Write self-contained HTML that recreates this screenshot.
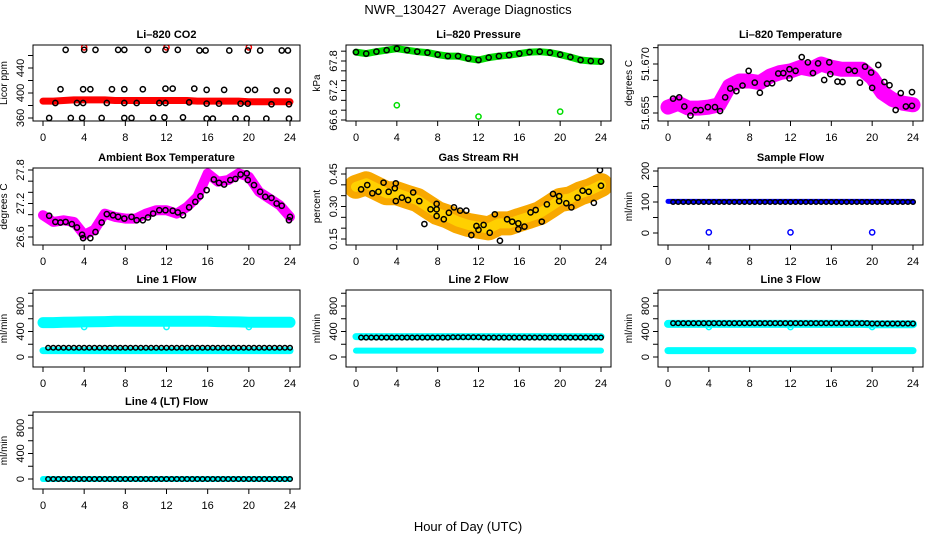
<!DOCTYPE html>
<html><head><meta charset="utf-8"><style>
html,body{margin:0;padding:0;background:#fff}
svg{display:block}
text{font-family:"Liberation Sans",Arial,sans-serif}
</style></head><body>
<svg id="chart" width="936" height="540" viewBox="0 0 936 540" xmlns="http://www.w3.org/2000/svg">
<text x="468" y="14" text-anchor="middle" font-size="13">NWR_130427&#160; Average Diagnostics</text>
<text x="468" y="531" text-anchor="middle" font-size="13">Hour of Day (UTC)</text>
</svg>
<script>
const hours=[0,1,2,3,4,5,6,7,8,9,10,11,12,13,14,15,16,17,18,19,20,21,22,23,24];
const xTicks=[0,4,8,12,16,20,24];
// CO2
const co2Red=[387,387,388,389,389,389,389,388,388,388,388,388,388,388,388,387,387,387,387,387,386,386,386,386,386];
const co2RedOutT=[4,12,20];
const co2RedOutV=[473,473,473];
const co2BlackT=[2.2,4.0,5.1,7.3,7.9,10.2,11.9,13.1,15.2,15.8,18.1,19.9,21.1,23.2,23.8,1.7,3.9,4.6,6.7,7.9,9.7,11.9,12.6,14.7,15.9,17.6,19.9,20.6,22.7,23.8,1.2,3.3,3.9,6.2,7.9,9.1,11.3,11.9,14.2,15.9,17.1,19.2,19.9,22.2,23.9,0.6,2.7,3.8,5.7,7.9,8.6,10.7,11.8,13.6,15.9,16.5,18.7,19.8,21.7,23.9];
const co2BlackV=[469,469,469,469,469,469,469,469,468,468,468,468,468,468,468,406,406,406,406,406,406,407,407,407,405,405,405,405,404,404,384,384,384,384,384,384,384,384,385,383,383,383,383,382,382,360,360,360,360,360,360,360,361,361,359,359,359,359,359,359];
// Pressure
const pressBand=[67.98,67.95,67.99,68.02,68.05,68.02,67.99,67.97,67.93,67.90,67.90,67.85,67.82,67.87,67.90,67.92,67.95,67.98,67.99,67.97,67.93,67.88,67.82,67.80,67.79];
const pressOutT=[4,12,20];
const pressOutV=[66.9,66.67,66.77];
// Li-820 temperature
const ltBand=[51.6568,51.6580,51.6565,51.6565,51.6568,51.6575,51.6632,51.6648,51.6648,51.6643,51.6663,51.6674,51.6679,51.6690,51.6684,51.6700,51.6690,51.6684,51.6684,51.6684,51.6658,51.6612,51.6591,51.6580,51.6575];
const ltBlackT=[0.5,1.1,1.6,2.2,2.7,3.2,3.9,4.6,5.1,5.6,6.1,6.7,7.3,7.9,8.5,9.0,9.7,10.2,10.8,11.3,11.9,11.9,12.5,13.1,13.7,14.2,14.7,15.3,15.8,15.9,16.6,17.1,17.7,18.3,18.8,19.3,19.9,20.0,20.6,21.2,21.7,22.3,22.8,23.3,23.9,23.9];
const ltBlackV=[51.6594,51.6598,51.6570,51.6542,51.6559,51.6559,51.6568,51.6568,51.6556,51.6598,51.6625,51.6617,51.6634,51.6679,51.6643,51.6612,51.6640,51.6641,51.6671,51.6672,51.6656,51.6684,51.6679,51.6721,51.6705,51.6672,51.6702,51.6651,51.6705,51.6669,51.6646,51.6645,51.6682,51.6679,51.6643,51.6692,51.6674,51.6627,51.6697,51.6645,51.6635,51.6559,51.6611,51.6570,51.6614,51.6572];
// Ambient box temperature
const ambBand=[26.99,26.87,26.90,26.87,26.64,26.73,27.02,26.96,26.93,26.93,27.02,27.08,27.08,27.02,27.14,27.32,27.74,27.59,27.62,27.74,27.68,27.41,27.29,27.17,26.96];
const ambBlackT=[0.6,1.2,1.7,2.2,2.8,3.3,3.8,3.9,4.6,5.1,5.7,6.2,6.8,7.3,7.9,8.6,9.1,9.7,10.2,10.7,11.3,11.9,12.6,13.1,13.6,14.2,14.8,15.3,15.9,16.6,17.1,17.6,18.2,18.7,19.2,19.8,19.9,20.5,21.1,21.6,22.2,22.7,23.2,23.9,24.0];
const ambBlackV=[26.98,26.87,26.86,26.87,26.83,26.77,26.64,26.58,26.58,26.69,26.86,27.01,26.99,26.96,26.93,26.96,26.90,26.90,26.95,27.02,27.08,27.08,27.07,27.04,26.99,27.13,27.23,27.33,27.44,27.63,27.57,27.54,27.62,27.64,27.72,27.74,27.62,27.53,27.41,27.32,27.30,27.20,27.16,26.90,26.96];
// Gas stream RH
const rhBand=[0.391,0.407,0.384,0.361,0.361,0.345,0.330,0.299,0.269,0.253,0.230,0.215,0.207,0.199,0.222,0.222,0.238,0.253,0.269,0.299,0.330,0.338,0.361,0.376,0.399];
const rhBlackT=[0.5,1.1,1.6,2.2,2.7,3.2,3.8,3.9,3.9,4.5,5.1,5.6,6.2,6.7,7.3,7.9,7.9,7.9,8.6,9.1,9.6,10.2,10.8,11.3,11.8,12.0,12.5,13.1,13.6,14.1,14.8,15.3,15.9,15.9,16.5,17.1,17.6,18.2,18.7,19.3,19.9,19.9,20.6,21.1,21.7,22.2,22.8,23.3,23.9,24.0];
const rhBlackV=[0.379,0.399,0.361,0.368,0.410,0.368,0.384,0.407,0.325,0.341,0.330,0.365,0.325,0.219,0.287,0.312,0.287,0.256,0.241,0.271,0.296,0.281,0.281,0.168,0.210,0.192,0.215,0.179,0.264,0.142,0.241,0.230,0.222,0.195,0.207,0.273,0.284,0.230,0.310,0.358,0.348,0.325,0.315,0.296,0.341,0.373,0.368,0.317,0.468,0.396];
// Flows
const halfHours=[0.5,1,1.5,2,2.5,3,3.5,4,4.5,5,5.5,6,6.5,7,7.5,8,8.5,9,9.5,10,10.5,11,11.5,12,12.5,13,13.5,14,14.5,15,15.5,16,16.5,17,17.5,18,18.5,19,19.5,20,20.5,21,21.5,22,22.5,23,23.5,24];
const sampleBlue=[102,102,102,102,102,102,102,102,102,102,102,102,102,102,102,102,102,102,102,102,102,102,102,102,102];
const sampleOutT=[4,12,20];
const sampleOutV=[2,2,2];
const sampleBlack=[100,100,100,100,100,100,100,100,100,100,100,100,100,100,100,100,100,100,100,100,100,100,100,100,100,100,100,100,100,100,100,100,100,100,100,100,100,100,100,100,100,100,100,100,100,100,100,100];
const line1CyanHi=[540,540,545,548,550,552,555,560,560,560,560,560,560,560,560,560,560,555,552,550,545,545,545,545,545];
const line1CyanLo=[100,100,100,100,100,100,100,100,100,100,100,100,100,100,100,100,100,100,100,100,100,100,100,100,100];
const line1Black=[145,145,145,145,145,145,145,145,145,145,145,145,145,145,145,145,145,145,145,145,145,145,145,145,145,145,145,145,145,145,145,145,145,145,145,145,145,145,145,145,145,145,145,145,145,145,145,145];
const line2CyanHi=[320,320,320,320,320,320,320,320,320,320,320,320,320,320,320,320,320,320,320,320,320,320,320,320,320];
const line2CyanLo=[100,100,100,100,100,100,100,100,100,100,100,100,100,100,100,100,100,100,100,100,100,100,100,100,100];
const line2Black=[305,305,305,305,305,305,305,305,305,305,305,305,305,305,305,305,305,305,310,310,310,310,310,310,305,305,305,305,305,305,305,305,305,305,305,305,305,305,305,305,305,305,305,305,305,305,305,305];
const line3CyanHi=[520,520,520,520,520,520,520,520,520,520,520,520,520,520,520,520,520,520,520,520,515,515,515,515,515];
const line3CyanLo=[100,100,100,100,100,100,100,100,100,100,100,100,100,100,100,100,100,100,100,100,100,100,100,100,100];
const line3Black=[530,530,530,530,530,530,530,530,530,530,530,530,530,530,530,530,530,530,530,530,530,530,530,530,530,530,530,530,530,530,530,530,530,530,530,530,530,530,530,525,525,525,525,525,525,525,525,525];
const line4Cyan=[0,0,0,0,0,0,0,0,0,0,0,0,0,0,0,0,0,0,0,0,0,0,0,0,0];
const line4Black=[0,0,0,0,0,0,0,0,0,0,0,0,0,0,0,0,0,0,0,0,0,0,0,0,0,0,0,0,0,0,0,0,0,0,0,0,0,0,0,0,0,0,0,0,0,0,0,0];
const flowDipT=[4,12,20];
const flowDipV=[470,470,470];

const NS='http://www.w3.org/2000/svg';
const svg=document.getElementById('chart');
function mk(tag,attrs,parent){const e=document.createElementNS(NS,tag);for(const k in attrs)e.setAttribute(k,attrs[k]);(parent||svg).appendChild(e);return e;}

function makePanel(cfg){
  const g=mk('g',{});
  
  
  const [bx1,by1,bx2,by2]=cfg.box;
  const xs=t=>cfg.x0+(cfg.x24-cfg.x0)*t/24;
  const ys=v=>cfg.yv[1]+(v-cfg.yv[0])*(cfg.yv[3]-cfg.yv[1])/(cfg.yv[2]-cfg.yv[0]);
  const clip='clip-'+cfg.name;
  const cp=mk('clipPath',{id:clip},g);
  mk('rect',{x:bx1,y:by1,width:bx2-bx1,height:by2-by1},cp);
  const plot=mk('g',{'clip-path':'url(#'+clip+')'},g);
  const t=mk('text',{x:(bx1+bx2)/2,y:by1-7,'text-anchor':'middle','font-size':11,'font-weight':'bold'},g);
  t.textContent=cfg.title;
  
  
  const yl=mk('text',{transform:`translate(${bx1-26},${(by1+by2)/2}) rotate(-90)`,'text-anchor':'middle','font-size':10},g);
  yl.textContent=cfg.ylab;
  
  
  const box=mk('rect',{x:bx1,y:by1,width:bx2-bx1,height:by2-by1,fill:'none',stroke:'#000','stroke-width':1},g);
  
  
  xTicks.forEach(v=>{
    const x=xs(v);
    const tk=mk('line',{x1:x,x2:x,y1:by2,y2:by2+5,stroke:'#000'},g);
    
    
    const lb=mk('text',{x:x,y:by2+20,'text-anchor':'middle','font-size':11},g);
    lb.textContent=v;
    
    
  });
  cfg.ticks.forEach(v=>{
    const y=ys(v);
    const tk=mk('line',{x1:bx1-5,x2:bx1,y1:y,y2:y,stroke:'#000'},g);
    
    
  });
  cfg.labels.forEach(s=>{
    const y=ys(parseFloat(s));
    const lb=mk('text',{transform:`translate(${bx1-9},${y}) rotate(-90)`,'text-anchor':'middle','font-size':11},g);
    lb.textContent=s;
    
    
  });
  return {plot,xs,ys};
}
function band(P,ts,vs,color,w,name){
  const d=ts.map((t,i)=>(i?'L':'M')+P.xs(t).toFixed(1)+','+P.ys(vs[i]).toFixed(1)).join(' ');
  const p=mk('path',{d:d,fill:'none',stroke:color,'stroke-width':w,'stroke-linejoin':'round','stroke-linecap':'round'},P.plot);
  
  
}
function pts(P,ts,vs,color,name,r){
  ts.forEach((t,i)=>{
    const c=mk('circle',{cx:P.xs(t),cy:P.ys(vs[i]),r:r||2.6,fill:'none',stroke:color,'stroke-width':1.5},P.plot);
    
    
  });
}
const C1={x0:43,x24:290,bx:[33,300]}, C2={x0:356,x24:601,bx:[346,611]}, C3={x0:668,x24:913,bx:[658,923]};
const R=[[45,121],[168,245],[290,367],[412,489]];
function cfgOf(col,row,o){return Object.assign({x0:col.x0,x24:col.x24,box:[col.bx[0],R[row][0],col.bx[1],R[row][1]]},o);}
const flowTicks=[0,200,400,600,800,1000], flowLabels=['0','400','800'];

let P=makePanel(cfgOf(C1,0,{name:'li820-co2-panel',title:'Li–820 CO2',ylab:'Licor ppm',yv:[360,118,440,68],ticks:[360,380,400,420,440,460],labels:['360','400','440']}));
band(P,hours,co2Red,'#ff0000',7,'co2-red-series');
pts(P,co2RedOutT,co2RedOutV,'#ff0000','co2-red-outlier');
pts(P,co2BlackT,co2BlackV,'#000','co2-black-point');
P=makePanel(cfgOf(C2,0,{name:'li820-pressure-panel',title:'Li–820 Pressure',ylab:'kPa',yv:[66.6,120,67.8,61],ticks:[66.6,66.8,67.0,67.2,67.4,67.6,67.8,68.0],labels:['66.6','67.2','67.8']}));
band(P,hours,pressBand,'#00dd00',7,'pressure-green-series');
pts(P,pressOutT,pressOutV,'#00dd00','pressure-outlier');
pts(P,hours,pressBand,'#000','pressure-black-point');
P=makePanel(cfgOf(C3,0,{name:'li820-temperature-panel',title:'Li–820 Temperature',ylab:'degrees C',yv:[51.655,113,51.670,64],ticks:[51.655,51.66,51.665,51.67,51.675],labels:['51.655','51.670']}));
band(P,hours,ltBand,'#ff00ff',15,'li-temp-magenta-series');
pts(P,ltBlackT,ltBlackV,'#000','li-temp-black-point');
P=makePanel(cfgOf(C1,1,{name:'ambient-box-temperature-panel',title:'Ambient Box Temperature',ylab:'degrees C',yv:[26.6,237,27.8,170],ticks:[26.6,26.8,27.0,27.2,27.4,27.6,27.8],labels:['26.6','27.2','27.8']}));
band(P,hours,ambBand,'#ff00ff',10,'ambient-magenta-series');
pts(P,ambBlackT,ambBlackV,'#000','ambient-black-point');
P=makePanel(cfgOf(C2,1,{name:'gas-stream-rh-panel',title:'Gas Stream RH',ylab:'percent',yv:[0.15,239,0.45,174],ticks:[0.15,0.2,0.25,0.3,0.35,0.4,0.45],labels:['0.15','0.30','0.45']}));
band(P,hours,rhBand,'#f8a800',24,'rh-orange-series');
band(P,hours,rhBand,'#ffd000',10,'rh-yellow-series');
pts(P,rhBlackT,rhBlackV,'#000','rh-black-point');
P=makePanel(cfgOf(C3,1,{name:'sample-flow-panel',title:'Sample Flow',ylab:'ml/min',yv:[0,233,200,171],ticks:[0,50,100,150,200],labels:['0','100','200']}));
band(P,hours,sampleBlue,'#0000ff',5,'sample-blue-series');
pts(P,sampleOutT,sampleOutV,'#0000ff','sample-outlier');
pts(P,halfHours,sampleBlack,'#000','sample-black-point',2.3);
P=makePanel(cfgOf(C1,2,{name:'line1-flow-panel',title:'Line 1 Flow',ylab:'ml/min',yv:[0,357,800,306],ticks:flowTicks,labels:flowLabels}));
band(P,hours,line1CyanHi,'#00ffff',11,'line1-cyan-high');
band(P,hours,line1CyanLo,'#00ffff',7,'line1-cyan-low');
pts(P,flowDipT,flowDipV,'#00ffff','line1-dip');
pts(P,halfHours,line1Black,'#000','line1-black-point',2.3);
P=makePanel(cfgOf(C2,2,{name:'line2-flow-panel',title:'Line 2 Flow',ylab:'ml/min',yv:[0,357,800,306],ticks:flowTicks,labels:flowLabels}));
band(P,hours,line2CyanHi,'#00ffff',7,'line2-cyan-high');
band(P,hours,line2CyanLo,'#00ffff',6,'line2-cyan-low');
pts(P,halfHours,line2Black,'#000','line2-black-point',2.3);
P=makePanel(cfgOf(C3,2,{name:'line3-flow-panel',title:'Line 3 Flow',ylab:'ml/min',yv:[0,357,800,306],ticks:flowTicks,labels:flowLabels}));
band(P,hours,line3CyanHi,'#00ffff',8,'line3-cyan-high');
band(P,hours,line3CyanLo,'#00ffff',7,'line3-cyan-low');
pts(P,flowDipT,flowDipV,'#00ffff','line3-dip');
pts(P,halfHours,line3Black,'#000','line3-black-point',2.3);
P=makePanel(cfgOf(C1,3,{name:'line4-flow-panel',title:'Line 4 (LT) Flow',ylab:'ml/min',yv:[0,479,800,428],ticks:flowTicks,labels:flowLabels}));
band(P,hours,line4Cyan,'#00ffff',6,'line4-cyan-series');
pts(P,halfHours,line4Black,'#000','line4-black-point',2.3);
</script>
</body></html>
